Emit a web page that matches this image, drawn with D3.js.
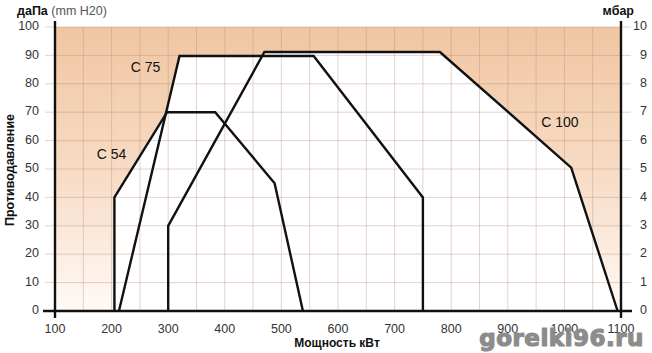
<!DOCTYPE html>
<html>
<head>
<meta charset="utf-8">
<script src="https://cdn.jsdelivr.net/npm/d3@7"></script>
<style>
	body { margin: 0; background: white; }
	text { font-family: "Liberation Sans", Arial, sans-serif; }
</style>
</head>
<body>
<div id="chart"></div>
<script>
// burner working fields: power (kW) / back pressure (daPa)
let burnerNames = ['C 54', 'C 75', 'C 100'];
let c54Power = [205, 205, 298, 383, 488, 538];
let c54Pressure = [0, 40, 70, 70, 45, 0];
let c75Power = [213, 320, 557, 750, 750];
let c75Pressure = [0, 89.8, 89.8, 40, 0];
let c100Power = [300, 300, 470, 780, 1012, 1094];
let c100Pressure = [0, 30, 91.2, 91.2, 50.5, 0];

// label positions (kW, daPa)
let labelPower = [200, 260, 992];
let labelPressure = [55, 85.5, 66];

// axis ticks
let powerTicks = [100, 200, 300, 400, 500, 600, 700, 800, 900, 1000, 1100];
let daPaTicks = [0, 10, 20, 30, 40, 50, 60, 70, 80, 90, 100];
let mbarTicks = [0, 1, 2, 3, 4, 5, 6, 7, 8, 9, 10];

let width = 652,
	height = 353,
	margin = { top: 27, bottom: 42, left: 55, right: 31 };

let svg = d3.select('#chart')
	.append('svg')
	.attr('width', width)
	.attr('height', height)
	.style('background', 'white');

let x = d3.scaleLinear().domain([100, 1100]).range([margin.left, width - margin.right]);
let y = d3.scaleLinear().domain([0, 100]).range([height - margin.bottom, margin.top]);
let y2 = d3.scaleLinear().domain([0, 10]).range([height - margin.bottom, margin.top]);

// peach gradient background
let grad = svg.append('defs').append('linearGradient')
	.attr('id', 'bg')
	.attr('x1', 0).attr('y1', 0).attr('x2', 0).attr('y2', 1);
grad.append('stop').attr('offset', '0%').attr('stop-color', '#f0c6a1');
grad.append('stop').attr('offset', '55%').attr('stop-color', '#f8ddc8');
grad.append('stop').attr('offset', '100%').attr('stop-color', '#fffaf6');

svg.append('rect')
	.attr('x', x(100))
	.attr('y', y(100))
	.attr('width', x(1100) - x(100))
	.attr('height', y(0) - y(100))
	.attr('fill', 'url(#bg)');

let curves = [
	d3.zip(c54Power, c54Pressure),
	d3.zip(c75Power, c75Pressure),
	d3.zip(c100Power, c100Pressure)
];

let line = d3.line()
	.x(function (d) { return x(d[0]); })
	.y(function (d) { return y(d[1]); });

// white working fields
svg.selectAll('fields')
	.data(curves)
	.enter()
	.append('path')
	.attr('d', function (d) { return line(d) + 'Z'; })
	.attr('fill', 'white');

// grid
let gridX = d3.range(100, 1101, 50);
let gridY = daPaTicks;

svg.selectAll('gridx')
	.data(gridX)
	.enter()
	.append('line')
	.attr('x1', function (d) { return x(d); })
	.attr('x2', function (d) { return x(d); })
	.attr('y1', y(0))
	.attr('y2', y(100))
	.attr('stroke', '#b98c78')
	.attr('stroke-opacity', 0.38)
	.attr('stroke-width', 1);

svg.selectAll('gridy')
	.data(gridY)
	.enter()
	.append('line')
	.attr('x1', x(100) - 10)
	.attr('x2', x(1100) + 10)
	.attr('y1', function (d) { return y(d); })
	.attr('y2', function (d) { return y(d); })
	.attr('stroke', '#b98c78')
	.attr('stroke-opacity', 0.38)
	.attr('stroke-width', 1);

// curves
svg.selectAll('curves')
	.data(curves)
	.enter()
	.append('path')
	.attr('d', line)
	.attr('fill', 'none')
	.attr('stroke', '#111')
	.attr('stroke-width', 2.4)
	.attr('stroke-linejoin', 'miter');

// curve labels
svg.selectAll('curvelabels')
	.data(burnerNames)
	.enter()
	.append('text')
	.attr('x', function (d, i) { return x(labelPower[i]); })
	.attr('y', function (d, i) { return y(labelPressure[i]); })
	.attr('text-anchor', 'middle')
	.attr('dominant-baseline', 'middle')
	.style('font-size', '14px')
	.style('fill', '#111')
	.text(function (d) { return d; });

// axes lines
svg.append('line')
	.attr('x1', x(100) - 12).attr('x2', x(1100) + 11)
	.attr('y1', y(0)).attr('y2', y(0))
	.attr('stroke', '#111').attr('stroke-width', 2.4);
svg.append('line')
	.attr('x1', x(100)).attr('x2', x(100))
	.attr('y1', y(100) - 6).attr('y2', y(0) + 7)
	.attr('stroke', '#111').attr('stroke-width', 2.4);
svg.append('line')
	.attr('x1', x(1100)).attr('x2', x(1100))
	.attr('y1', y(100) - 6).attr('y2', y(0) + 7)
	.attr('stroke', '#111').attr('stroke-width', 2.4);

// tick labels
svg.selectAll('xlabels')
	.data(powerTicks)
	.enter()
	.append('text')
	.attr('x', function (d) { return x(d); })
	.attr('y', y(0) + 22)
	.attr('text-anchor', 'middle')
	.style('font-size', '12.5px')
	.style('fill', '#333')
	.text(function (d) { return d; });

svg.selectAll('ylabels')
	.data(daPaTicks)
	.enter()
	.append('text')
	.attr('x', x(100) - 16)
	.attr('y', function (d) { return y(d); })
	.attr('text-anchor', 'end')
	.attr('dominant-baseline', 'middle')
	.style('font-size', '12.5px')
	.style('fill', '#333')
	.text(function (d) { return d; });

svg.selectAll('y2labels')
	.data(mbarTicks)
	.enter()
	.append('text')
	.attr('x', x(1100) + 26)
	.attr('y', function (d) { return y2(d); })
	.attr('text-anchor', 'end')
	.attr('dominant-baseline', 'middle')
	.style('font-size', '12.5px')
	.style('fill', '#333')
	.text(function (d) { return d; });

// axis titles
let unitLeft = svg.append('text')
	.attr('x', 17)
	.attr('y', 15)
	.style('font-size', '12.5px');
unitLeft.append('tspan').style('font-weight', 'bold').style('fill', '#111').text('даПа');
unitLeft.append('tspan').style('fill', '#555').text(' (mm H20)');

svg.append('text')
	.attr('x', 634)
	.attr('y', 15)
	.attr('text-anchor', 'end')
	.style('font-size', '12.5px')
	.style('font-weight', 'bold')
	.style('fill', '#111')
	.text('мбар');

svg.append('text')
	.attr('transform', 'translate(14,' + 170 + ') rotate(-90)')
	.attr('text-anchor', 'middle')
	.style('font-size', '12.5px')
	.style('font-weight', 'bold')
	.style('fill', '#111')
	.text('Противодавление');

svg.append('text')
	.attr('x', 337)
	.attr('y', 347)
	.attr('text-anchor', 'middle')
	.style('font-size', '12px')
	.style('font-weight', 'bold')
	.style('fill', '#111')
	.text('Мощность кВт');

// watermark
svg.append('text')
	.attr('x', 644)
	.attr('y', 346)
	.attr('text-anchor', 'end')
	.style('font-family', '"DejaVu Sans", sans-serif')
	.style('font-size', '23px')
	.style('font-weight', 'bold')
	.style('letter-spacing', '0.5px')
	.style('fill', '#8c8c8c')
	.style('stroke', '#8c8c8c')
	.style('stroke-width', 1.2)
	.style('stroke-linejoin', 'round')
	.text('gorelki96.ru');
</script>
</body>
</html>
